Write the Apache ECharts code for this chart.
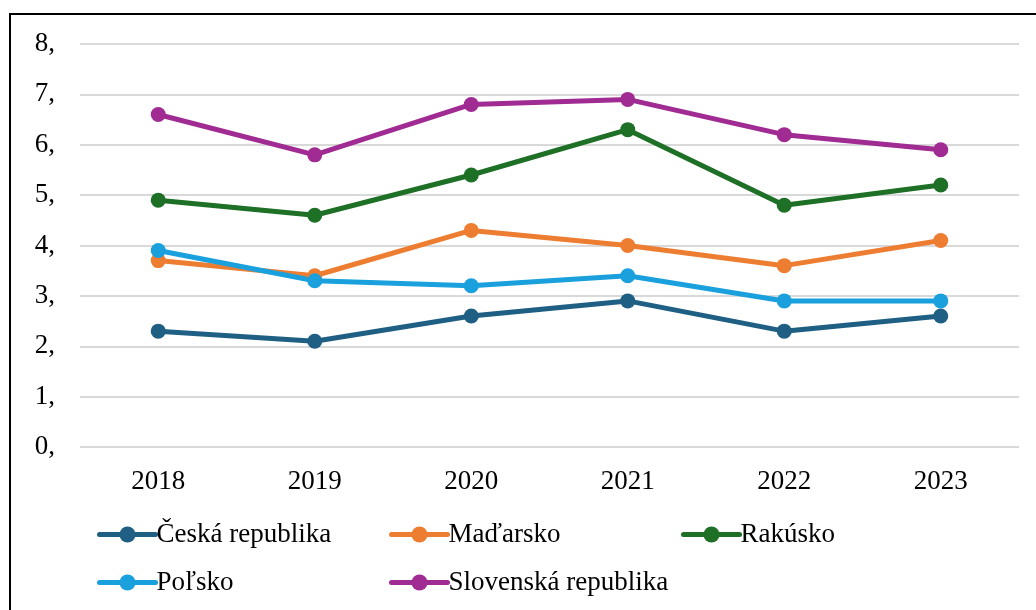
<!DOCTYPE html>
<html>
<head>
<meta charset="utf-8">
<script src="https://cdn.jsdelivr.net/npm/echarts@6/dist/echarts.min.js"></script>
<style>
    html, body { margin: 0; padding: 0; background: #fff; }
    #chart { width: 1036px; height: 610px; }
</style>
</head>
<body>
<div id="chart"></div>
<script>
const years = ['2018', '2019', '2020', '2021', '2022', '2023'];
const seriesNames = ['Česká republika', 'Maďarsko', 'Rakúsko', 'Poľsko', 'Slovenská republika'];
const cesko = [2.3, 2.1, 2.6, 2.9, 2.3, 2.6];
const madarsko = [3.7, 3.4, 4.3, 4.0, 3.6, 4.1];
const rakusko = [4.9, 4.6, 5.4, 6.3, 4.8, 5.2];
const polsko = [3.9, 3.3, 3.2, 3.4, 2.9, 2.9];
const slovensko = [6.6, 5.8, 6.8, 6.9, 6.2, 5.9];
const colors = ['#1f5f84', '#ed7d31', '#1e7026', '#1aa0dc', '#a02b93'];

const font = '"Liberation Serif", "Times New Roman", serif';
const allData = [cesko, madarsko, rakusko, polsko, slovensko];

// legend positions, one legend per item (two rows)
const legendPos = [[97, 521], [389, 521], [681, 521], [97, 569], [389, 569]];

const chart = echarts.init(document.getElementById('chart'));
const option = {
    animation: false,
    color: colors,
    graphic: [{
        type: 'rect',
        shape: { x: 10, y: 14, width: 1040, height: 620 },
        style: { fill: 'none', stroke: '#000', lineWidth: 2 },
        silent: true
    }],
    grid: { left: 80, right: 17, top: 44, bottom: 163 },
    legend: seriesNames.map((n, i) => ({
        data: [n],
        left: legendPos[i][0],
        top: legendPos[i][1],
        itemWidth: 56,
        itemHeight: 20,
        itemGap: 0,
        padding: 0,
        lineStyle: { width: 5, cap: 'round' },
        textStyle: { fontFamily: font, fontSize: 27, color: '#000', padding: [0, 0, 0, -4] }
    })),
    xAxis: {
        type: 'category',
        data: years,
        boundaryGap: true,
        axisLine: { show: false },
        axisTick: { show: false },
        axisLabel: { fontFamily: font, fontSize: 27, color: '#000', margin: 21 }
    },
    yAxis: {
        type: 'value',
        min: 0,
        max: 8,
        interval: 1,
        axisLine: { show: false },
        axisTick: { show: false },
        splitLine: { lineStyle: { color: '#d9d9d9', width: 2 } },
        axisLabel: {
            fontFamily: font, fontSize: 27, color: '#000', margin: 25,
            formatter: v => v + ','
        }
    },
    series: seriesNames.map((n, i) => ({
        name: n,
        type: 'line',
        data: allData[i],
        symbol: 'circle',
        symbolSize: 15,
        lineStyle: { width: 5 },
        itemStyle: { color: colors[i] }
    }))
};
chart.setOption(option);
</script>
</body>
</html>
